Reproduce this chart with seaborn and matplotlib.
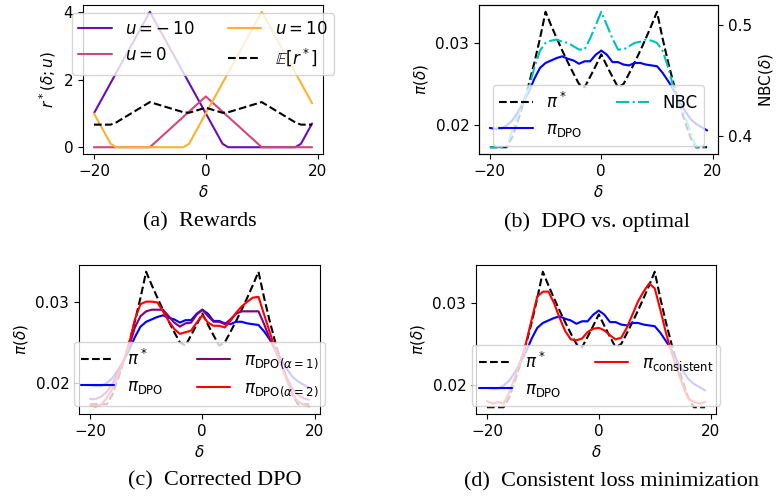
import numpy as np
import matplotlib
matplotlib.use("Agg")
import matplotlib.pyplot as plt
import seaborn as sns

# x grid shared by all panels
DELTA = np.arange(-20, 20)

# (a) rewards for each hidden context u, and their mean
R_U_NEG10 = [1.0, 1.3, 1.6, 1.9, 2.2, 2.5, 2.8, 3.1, 3.4, 3.7, 4.0,
             3.7, 3.4, 3.1, 2.8, 2.5, 2.2, 1.9, 1.6, 1.3, 1.0,
             0.7, 0.4, 0.1, 0, 0, 0, 0, 0, 0, 0, 0, 0, 0, 0, 0, 0,
             0.1, 0.4, 0.7]
R_U_0 = [0, 0, 0, 0, 0, 0, 0, 0, 0, 0, 0,
         0.15, 0.3, 0.45, 0.6, 0.75, 0.9, 1.05, 1.2, 1.35, 1.5,
         1.35, 1.2, 1.05, 0.9, 0.75, 0.6, 0.45, 0.3, 0.15,
         0, 0, 0, 0, 0, 0, 0, 0, 0, 0]
R_U_10 = [1.0, 0.7, 0.4, 0.1, 0, 0, 0, 0, 0, 0, 0, 0, 0, 0, 0, 0, 0,
          0.1, 0.4, 0.7, 1.0,
          1.3, 1.6, 1.9, 2.2, 2.5, 2.8, 3.1, 3.4, 3.7, 4.0,
          3.7, 3.4, 3.1, 2.8, 2.5, 2.2, 1.9, 1.6, 1.3]
R_MEAN = [0.667, 0.667, 0.667, 0.667, 0.733, 0.833, 0.933, 1.033, 1.133, 1.233, 1.333,
          1.283, 1.233, 1.183, 1.133, 1.083, 1.033, 1.017, 1.067, 1.117, 1.167,
          1.117, 1.067, 1.017, 1.033, 1.083, 1.133, 1.183, 1.233, 1.283, 1.333,
          1.233, 1.133, 1.033, 0.933, 0.833, 0.733, 0.667, 0.667, 0.667]

# optimal and learned policies
PI_STAR = [0.01736, 0.01736, 0.01736, 0.01736, 0.01855, 0.02050, 0.02266, 0.02504, 0.02767, 0.03059, 0.03381,
           0.03215, 0.03059, 0.02909, 0.02767, 0.02632, 0.02504, 0.02464, 0.02591, 0.02724, 0.02863,
           0.02724, 0.02591, 0.02464, 0.02504, 0.02632, 0.02767, 0.02909, 0.03059, 0.03215, 0.03381,
           0.03059, 0.02767, 0.02504, 0.02266, 0.02050, 0.01855, 0.01736, 0.01736, 0.01736]
PI_DPO = [0.0197, 0.0196, 0.0196, 0.0200, 0.0206, 0.0216, 0.0228, 0.0241, 0.0257, 0.0270, 0.0276,
          0.0279, 0.0282, 0.0284, 0.0281, 0.0279, 0.0275, 0.0278, 0.0278, 0.0286, 0.0291,
          0.0286, 0.0277, 0.0277, 0.0274, 0.0273, 0.0276, 0.0276, 0.0274, 0.0273, 0.0272,
          0.0264, 0.0254, 0.0243, 0.0230, 0.0218, 0.0208, 0.0202, 0.0198, 0.0194]
NBC = [0.390, 0.390, 0.390, 0.390, 0.405, 0.418, 0.430, 0.443, 0.462, 0.477, 0.484,
       0.486, 0.487, 0.485, 0.484, 0.481, 0.478, 0.478, 0.488, 0.500, 0.512,
       0.500, 0.488, 0.478, 0.478, 0.481, 0.484, 0.485, 0.487, 0.486, 0.484,
       0.477, 0.462, 0.443, 0.430, 0.418, 0.405, 0.390, 0.390, 0.390]
PI_ALPHA1 = [0.0180, 0.0180, 0.0183, 0.0189, 0.0199, 0.0214, 0.0228, 0.0246, 0.0269, 0.0283, 0.0289,
             0.0291, 0.0291, 0.0291, 0.0283, 0.0275, 0.0270, 0.0274, 0.0275, 0.0285, 0.0291,
             0.0283, 0.0276, 0.0276, 0.0273, 0.0279, 0.0286, 0.0289, 0.0289, 0.0289, 0.0289,
             0.0273, 0.0255, 0.0240, 0.0224, 0.0207, 0.0193, 0.0185, 0.0181, 0.0179]
PI_ALPHA2 = [0.0172, 0.0171, 0.0173, 0.0181, 0.0193, 0.0209, 0.0228, 0.0250, 0.0279, 0.0298, 0.0301,
             0.0301, 0.0300, 0.0289, 0.0277, 0.0267, 0.0261, 0.0263, 0.0265, 0.0275, 0.0284,
             0.0275, 0.0271, 0.0271, 0.0269, 0.0277, 0.0287, 0.0295, 0.0301, 0.0306, 0.0307,
             0.0285, 0.0263, 0.0242, 0.0224, 0.0205, 0.0187, 0.0177, 0.0173, 0.0171]
PI_CONSISTENT = [0.0181, 0.0178, 0.0180, 0.0178, 0.0192, 0.0210, 0.0230, 0.0252, 0.0280, 0.0308, 0.0314,
                 0.0314, 0.0300, 0.0282, 0.0266, 0.0256, 0.0255, 0.0257, 0.0265, 0.0269, 0.0270,
                 0.0267, 0.0261, 0.0256, 0.0258, 0.0270, 0.0286, 0.0302, 0.0314, 0.0324, 0.0318,
                 0.0292, 0.0264, 0.0240, 0.0220, 0.0200, 0.0184, 0.0180, 0.0178, 0.0180]
BAND = 0.00012  # half-width of the shaded spread around learned policies

sns.set_style("ticks", {"axes.edgecolor": "black", "xtick.color": "black",
                        "ytick.color": "black", "text.color": "black",
                        "axes.labelcolor": "black"})
plt.rcParams["font.family"] = ["DejaVu Sans"]
plt.rcParams["font.size"] = 11
plt.rcParams["legend.fontsize"] = 12
plt.rcParams["lines.linewidth"] = 1.5

W, H = 776, 498
fig = plt.figure(figsize=(W / 100, H / 100), dpi=100)


def add_ax(left, top, right, bottom):
    return fig.add_axes([left / W, 1 - bottom / H, (right - left) / W, (bottom - top) / H])


def policy_line(ax, y, color, label, band=True, **kw):
    sns.lineplot(x=DELTA, y=y, ax=ax, color=color, label=label, **kw)
    if band:
        y = np.asarray(y)
        ax.fill_between(DELTA, y - BAND, y + BAND, color=color, alpha=0.15, lw=0)


def caption(x, y, s):
    fig.text(x / W, 1 - y / H, s, ha="center", va="center",
             family=["Liberation Serif", "DejaVu Serif"], fontsize=16)


# (a) rewards
ax_a = add_ax(83, 5, 323, 154)
sns.lineplot(x=DELTA, y=R_U_NEG10, ax=ax_a, color="#6a0fb5", label=r"$u = -\,10$")
sns.lineplot(x=DELTA, y=R_U_0, ax=ax_a, color="#d4467a", label="$u = 0$")
sns.lineplot(x=DELTA, y=R_U_10, ax=ax_a, color="#fdb22f", label="$u = 10$")
sns.lineplot(x=DELTA, y=R_MEAN, ax=ax_a, color="black", linestyle="--", label=r"$\mathbb{E}[r^*]$")
ax_a.set_yticks([0, 2, 4])
ax_a.set_ylabel(r"$r^*(\delta; u)$")
ax_a.legend(ncol=2, loc="upper center")

# (b) DPO vs optimal, with NBC on a twin axis
ax_b = add_ax(479, 5, 718, 154)
sns.lineplot(x=DELTA, y=PI_STAR, ax=ax_b, color="black", linestyle="--", label=r"$\pi^*$")
policy_line(ax_b, PI_DPO, "blue", r"$\pi_\mathrm{DPO}$")
ax_b.set_yticks([0.02, 0.03])
ax_b.set_ylabel(r"$\pi(\delta)$")
ax_b.get_legend().remove()
ax_b2 = ax_b.twinx()
sns.lineplot(x=DELTA, y=NBC, ax=ax_b2, color="c", linestyle="-.", label="NBC")
ax_b2.set_yticks([0.4, 0.5])
ax_b2.set_ylabel(r"NBC$(\delta)$")
h1, l1 = ax_b.get_legend_handles_labels()
h2, l2 = ax_b2.get_legend_handles_labels()
ax_b2.legend(h1 + h2, l1 + l2, ncol=2, loc="lower center")

# (c) corrected DPO
ax_c = add_ax(79, 265, 320, 414)
sns.lineplot(x=DELTA, y=PI_STAR, ax=ax_c, color="black", linestyle="--", label=r"$\pi^*$")
policy_line(ax_c, PI_DPO, "blue", r"$\pi_\mathrm{DPO}$")
policy_line(ax_c, PI_ALPHA1, "purple", r"$\pi_{\mathrm{DPO}(\alpha=1)}$")
policy_line(ax_c, PI_ALPHA2, "red", r"$\pi_{\mathrm{DPO}(\alpha=2)}$")
ax_c.set_yticks([0.02, 0.03])
ax_c.set_ylabel(r"$\pi(\delta)$")
ax_c.legend(ncol=2, loc="lower center")

# (d) consistent loss minimization
ax_d = add_ax(476, 265, 716, 414)
sns.lineplot(x=DELTA, y=PI_STAR, ax=ax_d, color="black", linestyle="--", label=r"$\pi^*$")
policy_line(ax_d, PI_DPO, "blue", r"$\pi_\mathrm{DPO}$")
policy_line(ax_d, PI_CONSISTENT, "red", r"$\pi_\mathrm{consistent}$")
ax_d.set_yticks([0.02, 0.03])
ax_d.set_ylabel(r"$\pi(\delta)$")
ax_d.legend(ncol=2, loc="lower center")

for ax in (ax_a, ax_b, ax_c, ax_d):
    ax.set_xticks([-20, 0, 20])
    ax.set_xlabel(r"$\delta$")

caption(200, 222, "(a)  Rewards")
caption(597, 222, "(b)  DPO vs. optimal")
caption(215, 481, "(c)  Corrected DPO")
caption(612, 482, "(d)  Consistent loss minimization")

fig.savefig("out.png", dpi=100)
plt.close(fig)
